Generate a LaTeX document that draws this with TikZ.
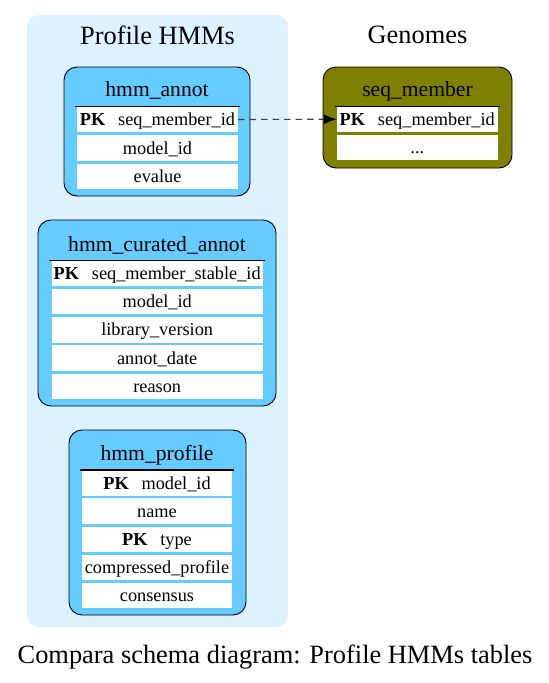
\documentclass[tikz,border=0pt]{standalone}
\usepackage{fontspec}
\setmainfont{Liberation Serif}
\usetikzlibrary{arrows.meta}
\definecolor{clusterbg}{HTML}{DDF2FF}
\definecolor{hmmblue}{HTML}{66CCFF}
\definecolor{genolive}{HTML}{808000}
\begin{document}
\begin{tikzpicture}[x=1pt,y=1pt,yscale=-1,>={Latex[length=13pt,width=10pt,color=black]}]
	\tikzstyle{cluster} = [fill=clusterbg, rounded corners=12pt]
	\tikzstyle{title} = [font=\fontsize{26.4}{30}\selectfont, inner sep=0pt]
	\tikzstyle{tbl} = [draw=black, line width=0.9pt, rounded corners=13pt]
	\tikzstyle{hmm} = [tbl, fill=hmmblue]
	\tikzstyle{gen} = [tbl, fill=genolive]
	\tikzstyle{head} = [font=\fontsize{21.6}{24}\selectfont, inner sep=0pt, text height=18pt, text depth=2pt]
	\tikzstyle{field} = [fill=white, minimum height=25.5pt, inner sep=0pt, text height=14pt, text depth=2pt, font=\fontsize{18.3}{20}\selectfont]
	\tikzstyle{headline} = [line width=1.3pt]
	\newcommand{\pk}{\textbf{PK}\hspace{0.7em}}

	\useasboundingbox (0,0) rectangle (549,683);
	\node[cluster, minimum width=261pt, minimum height=612pt] (hmms) at (157.5,321) {};
	\node[title] (hmmsTitle) at (157.5,35) {Profile HMMs};
	\node[title] (genTitle) at (417.5,35) {Genomes};

	\node[hmm, minimum width=186pt, minimum height=129pt] (annot) at (157,131.5) {};
	\node[head] (annotHead) at (157,88) {hmm\_annot};
	\node[field, minimum width=161pt] (annot-r1) at (157.5,119.5) {\pk seq\_member\_id};
	\node[field, minimum width=161pt] (annot-r2) at (157.5,148) {model\_id};
	\node[field, minimum width=161pt] (annot-r3) at (157.5,176.5) {evalue};
	\draw[headline] ([xshift=-2pt]annot-r1.north west) -- ([xshift=2pt]annot-r1.north east);

	\node[hmm, minimum width=238pt, minimum height=186pt] (curated) at (157,313) {};
	\node[head] (curatedHead) at (157,243) {hmm\_curated\_annot};
	\node[field, minimum width=211pt] (curated-r1) at (157.2,273.3) {\pk seq\_member\_stable\_id};
	\node[field, minimum width=211pt] (curated-r2) at (157.2,301.6) {model\_id};
	\node[field, minimum width=211pt] (curated-r3) at (157.2,329.9) {library\_version};
	\node[field, minimum width=211pt] (curated-r4) at (157.2,358.2) {annot\_date};
	\node[field, minimum width=211pt] (curated-r5) at (157.2,386.5) {reason};
	\draw[headline] ([xshift=-2.5pt]curated-r1.north west) -- ([xshift=2.5pt]curated-r1.north east);

	\node[hmm, minimum width=177pt, minimum height=185pt] (profile) at (157.5,522.5) {};
	\node[head] (profileHead) at (157,452) {hmm\_profile};
	\node[field, minimum width=149.5pt] (profile-r1) at (157,483) {\pk model\_id};
	\node[field, minimum width=149.5pt] (profile-r2) at (157,511) {name};
	\node[field, minimum width=149.5pt] (profile-r3) at (157,539.3) {\pk type};
	\node[field, minimum width=149.5pt] (profile-r4) at (157,567.5) {compressed\_profile};
	\node[field, minimum width=149.5pt] (profile-r5) at (157,595.5) {consensus};
	\draw[headline] ([xshift=-2.5pt]profile-r1.north west) -- ([xshift=2.5pt]profile-r1.north east);

	\node[gen, minimum width=189pt, minimum height=101pt] (seqm) at (417.5,117.5) {};
	\node[head] (seqmHead) at (417.5,88) {seq\_member};
	\node[field, minimum width=160.7pt] (seqm-r1) at (417.3,119.2) {\pk seq\_member\_id};
	\node[field, minimum width=160.7pt] (seqm-r2) at (417.3,147.5) {...};
	\draw[headline] ([xshift=-2pt]seqm-r1.north west) -- ([xshift=2pt]seqm-r1.north east);

	\draw[->, line width=1.1pt, draw=black!75, dash pattern=on 6.5pt off 5pt] (annot-r1.east) -- (seqm-r1.west);

	\node[title] (caption) at (275,657) {Compara schema diagram: Profile HMMs tables};
\end{tikzpicture}
\end{document}
